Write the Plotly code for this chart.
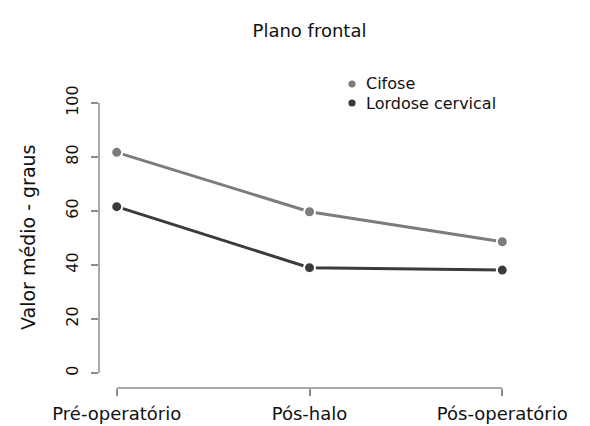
import plotly.graph_objects as go

categorias = ["Pré-operatório", "Pós-halo", "Pós-operatório"]
cifose = [81.7, 59.7, 48.6]
lordose = [61.6, 39.0, 38.1]
y_ticks = [0, 20, 40, 60, 80, 100]
series = [("Cifose", cifose, "#7c7c7c"), ("Lordose cervical", lordose, "#3b3b3b")]

cor_eixo = "#8c8c8c"
fonte = "DejaVu Sans"

# the page body adds an 8px offset; figure coordinates below already account for it
W, H = 582, 418
L, R, T, B = 91, 70, 42, 38
pw, ph = W - L - R, H - T - B


def px(x):
    return (x - L) / pw


def py(y):
    return (H - B - y) / ph


fig = go.Figure()
for nome, vals, cor in series:
    fig.add_trace(go.Scatter(
        x=categorias, y=vals, mode="lines+markers", name=nome, showlegend=False,
        line=dict(color=cor, width=3),
        marker=dict(color=cor, size=11, line=dict(color="white", width=2)),
    ))

fig.update_layout(
    width=W, height=H,
    margin=dict(l=L, r=R, t=T, b=B, autoexpand=False),
    paper_bgcolor="white", plot_bgcolor="white",
    font=dict(family=fonte, color="#111111", size=18),
    title=dict(text="Plano frontal", x=301.5 / W, xanchor="center",
               y=1 - 23 / H, yanchor="middle", font=dict(size=18, family=fonte)),
    showlegend=False,
)

fig.update_xaxes(
    type="category", range=[-0.092, 2.092], showgrid=False, zeroline=False, automargin=False,
    showline=False, ticks="outside", ticklen=7, tickwidth=1.5, tickcolor=cor_eixo,
    ticklabelstandoff=2, tickfont=dict(size=18, family=fonte),
)
fig.update_yaxes(
    range=[-5.56, 119.6], tickvals=y_ticks, showgrid=False, zeroline=False, automargin=False,
    showline=False, ticks="outside", ticklen=7, tickwidth=1.5, tickcolor=cor_eixo,
    tickangle=-90, ticklabelstandoff=7, tickfont=dict(size=16, family=fonte),
)

# y-axis title
fig.add_annotation(text="Valor médio - graus", xref="paper", yref="y", x=px(20), y=50,
                   textangle=-90, showarrow=False, xanchor="center", yanchor="middle",
                   font=dict(size=19, family=fonte))

# R-style axis lines spanning first to last tick
fig.add_shape(type="line", xref="paper", yref="y", x0=0, x1=0, y0=y_ticks[0], y1=y_ticks[-1],
              line=dict(color=cor_eixo, width=1.5))
fig.add_shape(type="line", xref="x", yref="paper", x0=categorias[0], x1=categorias[-1], y0=0, y1=0,
              line=dict(color=cor_eixo, width=1.5))

# legend (points only, as in the reference)
r = 3.6
for i, (nome, vals, cor) in enumerate(series):
    cy = 76 + 19 * i
    cx = 344
    fig.add_shape(type="circle", xref="paper", yref="paper",
                  x0=px(cx - r), x1=px(cx + r), y0=py(cy + r), y1=py(cy - r),
                  fillcolor=cor, line=dict(width=0))
    fig.add_annotation(text=nome, xref="paper", yref="paper", x=px(357), y=py(cy),
                       xanchor="left", yanchor="middle", showarrow=False, borderpad=0,
                       font=dict(size=16, family=fonte))

fig.write_html("out.html")
